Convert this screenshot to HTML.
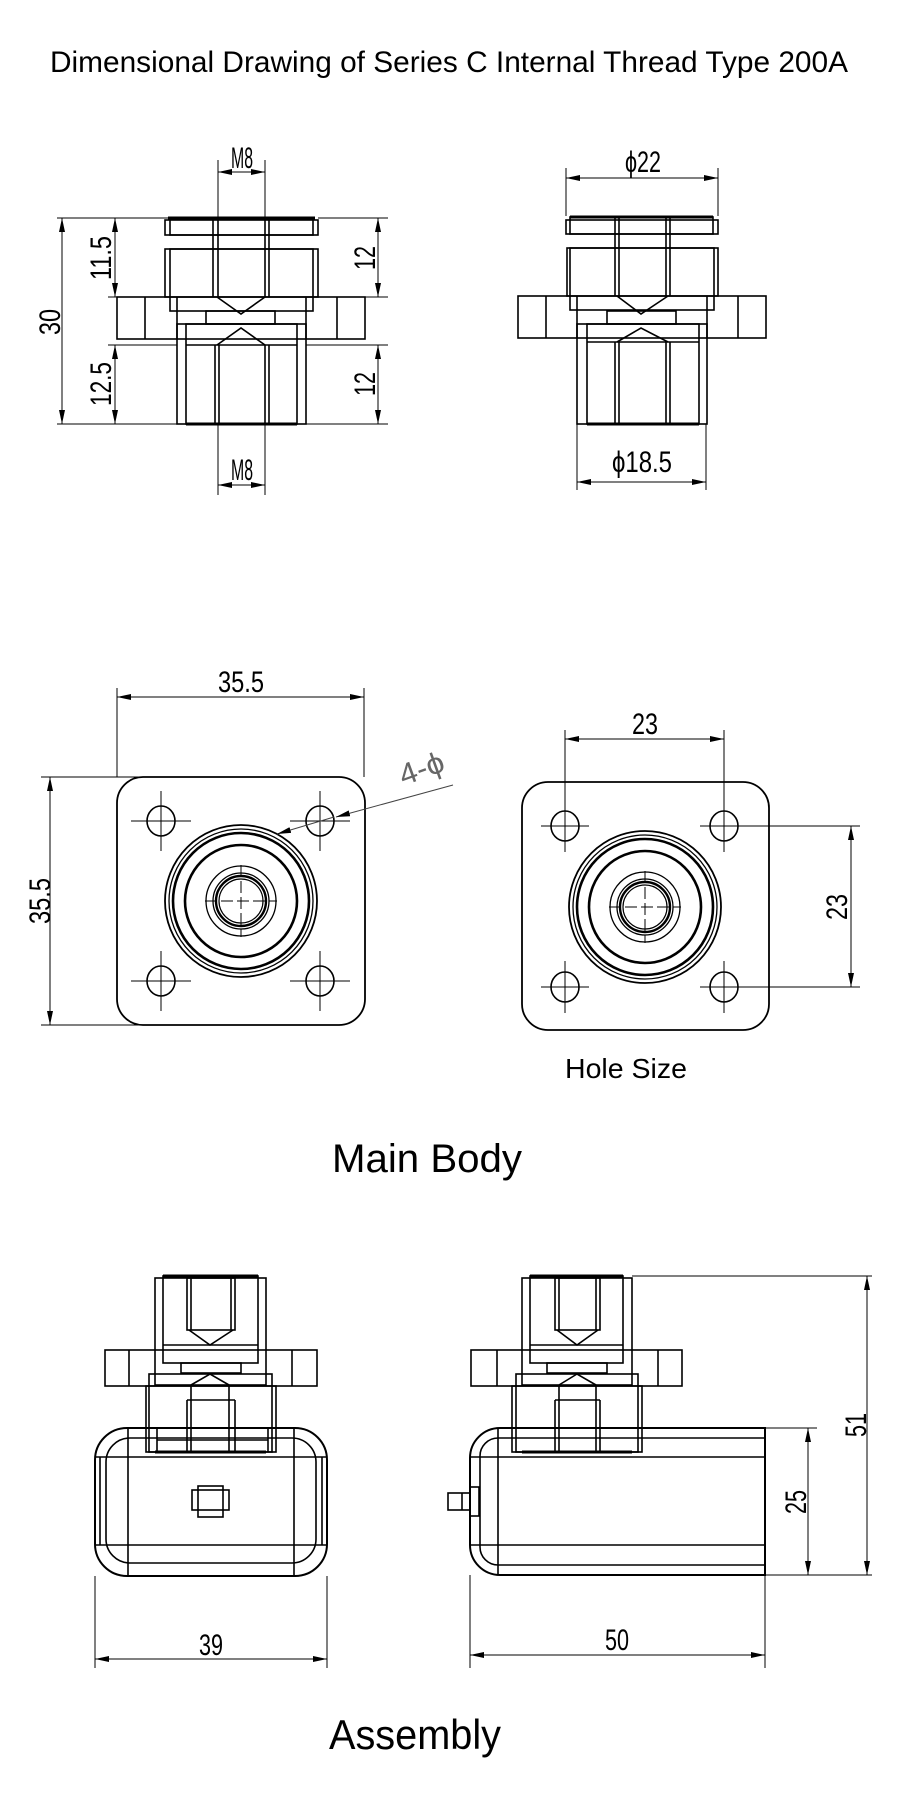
<!DOCTYPE html>
<html><head><meta charset="utf-8"><style>
html,body{margin:0;padding:0;background:#fff;}
svg{display:block;}
text{font-family:"Liberation Sans","Noto Sans CJK SC",sans-serif;fill:#000;}
.d{font-family:"Liberation Sans Narrow","Liberation Sans",sans-serif;font-size:30px;}
</style></head><body>
<svg width="900" height="1797" viewBox="0 0 900 1797" xmlns="http://www.w3.org/2000/svg">
<defs>
<marker id="a" viewBox="0 0 14 6" refX="14" refY="3" markerWidth="14" markerHeight="6" markerUnits="userSpaceOnUse" orient="auto-start-reverse"><path d="M0,0 L14,3 L0,6 z" fill="#000"/></marker>
</defs>
<rect width="900" height="1797" fill="#fff"/>
<text x="449" y="72" font-size="30" text-anchor="middle" textLength="798" lengthAdjust="spacingAndGlyphs">Dimensional Drawing of Series C Internal Thread Type 200A</text>

<!-- ========== TOP LEFT VIEW ========== -->
<g fill="none" stroke="#000" stroke-width="1.6">
 <rect x="165" y="220" width="153" height="15"/>
 <line x1="168" y1="218" x2="315" y2="218" stroke-width="3"/>
 <rect x="170" y="218" width="143" height="17"/>
 <rect x="165" y="249" width="153" height="48"/>
 <rect x="170" y="249" width="143" height="62"/>
 <line x1="213" y1="218" x2="213" y2="297"/><line x1="218" y1="218" x2="218" y2="297"/>
 <line x1="265" y1="218" x2="265" y2="297"/><line x1="269" y1="218" x2="269" y2="297"/>
 <polyline points="217,297 241,314 265,297"/>
 <rect x="117" y="297" width="248" height="42"/>
 <line x1="145" y1="297" x2="145" y2="339"/><line x1="337" y1="297" x2="337" y2="339"/>
 <line x1="177" y1="297" x2="177" y2="339"/><line x1="306" y1="297" x2="306" y2="339"/>
 <rect x="206" y="311" width="69" height="13"/>
 <rect x="177" y="324" width="129" height="100"/>
 <rect x="186" y="324" width="111" height="100"/>
 <line x1="186" y1="345" x2="297" y2="345"/>
 <polyline points="217,345 241,328 265,345"/>
 <line x1="215" y1="345" x2="215" y2="424"/><line x1="219" y1="345" x2="219" y2="424"/>
 <line x1="265" y1="345" x2="265" y2="424"/><line x1="269" y1="345" x2="269" y2="424"/>
 <line x1="186" y1="424" x2="297" y2="424" stroke-width="3"/>
</g>
<g fill="none" stroke="#000" stroke-width="1">
 <line x1="218" y1="160" x2="218" y2="218"/><line x1="265" y1="160" x2="265" y2="218"/>
 <line x1="218" y1="424" x2="218" y2="495"/><line x1="265" y1="424" x2="265" y2="495"/>
 <line x1="57" y1="218" x2="170" y2="218"/><line x1="57" y1="424" x2="186" y2="424"/>
 <line x1="108" y1="297" x2="117" y2="297"/><line x1="108" y1="345" x2="177" y2="345"/>
 <line x1="318" y1="218" x2="388" y2="218"/><line x1="365" y1="297" x2="388" y2="297"/>
 <line x1="306" y1="345" x2="388" y2="345"/><line x1="297" y1="424" x2="388" y2="424"/>
 <line x1="62" y1="218" x2="62" y2="424" marker-start="url(#a)" marker-end="url(#a)"/>
 <line x1="115" y1="218" x2="115" y2="297" marker-start="url(#a)" marker-end="url(#a)"/>
 <line x1="115" y1="345" x2="115" y2="424" marker-start="url(#a)" marker-end="url(#a)"/>
 <line x1="378" y1="218" x2="378" y2="297" marker-start="url(#a)" marker-end="url(#a)"/>
 <line x1="378" y1="345" x2="378" y2="424" marker-start="url(#a)" marker-end="url(#a)"/>
 <line x1="218" y1="172" x2="265" y2="172" marker-start="url(#a)" marker-end="url(#a)"/>
 <line x1="218" y1="485" x2="265" y2="485" marker-start="url(#a)" marker-end="url(#a)"/>
</g>
<text class="d" x="242" y="168" text-anchor="middle" textLength="22" lengthAdjust="spacingAndGlyphs">M8</text>
<text class="d" x="242" y="480" text-anchor="middle" textLength="22" lengthAdjust="spacingAndGlyphs">M8</text>
<text class="d" transform="translate(60,322) rotate(-90)" text-anchor="middle" textLength="26" lengthAdjust="spacingAndGlyphs">30</text>
<text class="d" transform="translate(111,258) rotate(-90)" text-anchor="middle" textLength="44" lengthAdjust="spacingAndGlyphs">11.5</text>
<text class="d" transform="translate(111,384) rotate(-90)" text-anchor="middle" textLength="44" lengthAdjust="spacingAndGlyphs">12.5</text>
<text class="d" transform="translate(375,258) rotate(-90)" text-anchor="middle" textLength="24" lengthAdjust="spacingAndGlyphs">12</text>
<text class="d" transform="translate(375,384) rotate(-90)" text-anchor="middle" textLength="24" lengthAdjust="spacingAndGlyphs">12</text>

<!-- ========== TOP RIGHT VIEW ========== -->
<g fill="none" stroke="#000" stroke-width="1.6">
 <rect x="566" y="220" width="152" height="14"/>
 <line x1="570" y1="217" x2="713" y2="217" stroke-width="3"/>
 <rect x="570" y="217" width="143" height="17"/>
 <rect x="567" y="248" width="151" height="48"/>
 <rect x="570" y="248" width="144" height="62"/>
 <line x1="615" y1="217" x2="615" y2="296"/><line x1="619" y1="217" x2="619" y2="296"/>
 <line x1="666" y1="217" x2="666" y2="296"/><line x1="670" y1="217" x2="670" y2="296"/>
 <polyline points="617,296 641,314 668,296"/>
 <rect x="518" y="296" width="248" height="42"/>
 <line x1="546" y1="296" x2="546" y2="338"/><line x1="738" y1="296" x2="738" y2="338"/>
 <line x1="577" y1="296" x2="577" y2="338"/><line x1="707" y1="296" x2="707" y2="338"/>
 <rect x="607" y="311" width="69" height="13"/>
 <rect x="577" y="324" width="130" height="100"/>
 <rect x="587" y="324" width="112" height="100"/>
 <line x1="587" y1="342" x2="699" y2="342"/>
 <polyline points="617,342 641,328 668,342"/>
 <line x1="615" y1="342" x2="615" y2="424"/><line x1="619" y1="342" x2="619" y2="424"/>
 <line x1="666" y1="342" x2="666" y2="424"/><line x1="670" y1="342" x2="670" y2="424"/>
 <line x1="587" y1="424" x2="699" y2="424" stroke-width="3"/>
</g>
<g fill="none" stroke="#000" stroke-width="1">
 <line x1="566" y1="168" x2="566" y2="216"/><line x1="718" y1="168" x2="718" y2="216"/>
 <line x1="577" y1="424" x2="577" y2="490"/><line x1="706" y1="424" x2="706" y2="490"/>
 <line x1="566" y1="178" x2="718" y2="178" marker-start="url(#a)" marker-end="url(#a)"/>
 <line x1="577" y1="482" x2="706" y2="482" marker-start="url(#a)" marker-end="url(#a)"/>
</g>
<text class="d" x="643" y="172" text-anchor="middle" textLength="36" lengthAdjust="spacingAndGlyphs">ϕ22</text>
<text class="d" x="642" y="472" text-anchor="middle" textLength="60" lengthAdjust="spacingAndGlyphs">ϕ18.5</text>

<!-- ========== MAIN BODY LEFT ========== -->
<g fill="none" stroke="#000" stroke-width="1.8">
 <rect x="117" y="777" width="248" height="248" rx="26"/>
 <g stroke-width="1.6">
  <ellipse cx="161" cy="821" rx="14" ry="15"/><ellipse cx="320" cy="821" rx="14" ry="15"/>
  <ellipse cx="161" cy="981" rx="14" ry="15"/><ellipse cx="320" cy="981" rx="14" ry="15"/>
 </g>
 <circle cx="241" cy="901" r="76"/><circle cx="241" cy="901" r="72" stroke-width="1.3"/>
 <circle cx="241" cy="901" r="68" stroke-width="2.6"/><circle cx="241" cy="901" r="56" stroke-width="2.6"/>
 <circle cx="241" cy="901" r="35" stroke-width="1.3"/><circle cx="241" cy="901" r="28" stroke-width="1.3"/>
 <circle cx="241" cy="901" r="25" stroke-width="2.4"/><circle cx="241" cy="901" r="22" stroke-width="1.2"/>
</g>
<g fill="none" stroke="#000" stroke-width="1">
 <path d="M131,821h60M161,791v60M290,821h60M320,791v60M131,981h60M161,951v60M290,981h60M320,951v60"/>
 <path d="M205,901h72M241,865v72" stroke-dasharray="12,4"/>
 <line x1="117" y1="688" x2="117" y2="777"/><line x1="364" y1="688" x2="364" y2="777"/>
 <line x1="117" y1="697" x2="364" y2="697" marker-start="url(#a)" marker-end="url(#a)"/>
 <line x1="41" y1="777" x2="140" y2="777"/><line x1="41" y1="1025" x2="140" y2="1025"/>
 <line x1="50" y1="777" x2="50" y2="1025" marker-start="url(#a)" marker-end="url(#a)"/>
 <line x1="277" y1="834" x2="334" y2="817" marker-start="url(#a)" stroke="#444"/>
 <line x1="453" y1="785" x2="336" y2="817" marker-end="url(#a)" stroke="#444"/>
</g>
<text class="d" x="241" y="692" text-anchor="middle" textLength="46" lengthAdjust="spacingAndGlyphs">35.5</text>
<text class="d" transform="translate(50,901) rotate(-90)" text-anchor="middle" textLength="46" lengthAdjust="spacingAndGlyphs">35.5</text>
<text class="d" transform="translate(425,778) rotate(-20)" text-anchor="middle" textLength="46" lengthAdjust="spacingAndGlyphs" style="fill:#666">4-ϕ</text>

<!-- ========== MAIN BODY RIGHT ========== -->
<g fill="none" stroke="#000" stroke-width="1.8">
 <rect x="522" y="782" width="247" height="248" rx="26"/>
 <g stroke-width="1.6">
  <ellipse cx="565" cy="826" rx="14" ry="15"/><ellipse cx="724" cy="826" rx="14" ry="15"/>
  <ellipse cx="565" cy="987" rx="14" ry="15"/><ellipse cx="724" cy="987" rx="14" ry="15"/>
 </g>
 <circle cx="645" cy="907" r="76"/><circle cx="645" cy="907" r="72" stroke-width="1.3"/>
 <circle cx="645" cy="907" r="68" stroke-width="2.6"/><circle cx="645" cy="907" r="56" stroke-width="2.6"/>
 <circle cx="645" cy="907" r="35" stroke-width="1.3"/><circle cx="645" cy="907" r="28" stroke-width="1.3"/>
 <circle cx="645" cy="907" r="25" stroke-width="2.4"/><circle cx="645" cy="907" r="22" stroke-width="1.2"/>
</g>
<g fill="none" stroke="#000" stroke-width="1">
 <path d="M541,826h48M565,800v52M700,826h48M724,800v52M541,987h48M565,961v52M700,987h48M724,961v52"/>
 <path d="M609,907h72M645,871v72" stroke-dasharray="12,4"/>
 <line x1="565" y1="730" x2="565" y2="812"/><line x1="724" y1="730" x2="724" y2="812"/>
 <line x1="565" y1="739" x2="724" y2="739" marker-start="url(#a)" marker-end="url(#a)"/>
 <line x1="738" y1="826" x2="860" y2="826"/><line x1="738" y1="987" x2="860" y2="987"/>
 <line x1="851" y1="826" x2="851" y2="987" marker-start="url(#a)" marker-end="url(#a)"/>
</g>
<text class="d" x="645" y="734" text-anchor="middle" textLength="26" lengthAdjust="spacingAndGlyphs">23</text>
<text class="d" transform="translate(847,907) rotate(-90)" text-anchor="middle" textLength="26" lengthAdjust="spacingAndGlyphs">23</text>
<text x="626" y="1078" font-size="28" text-anchor="middle" textLength="122" lengthAdjust="spacingAndGlyphs">Hole Size</text>
<text x="427" y="1172" font-size="40" text-anchor="middle" textLength="190" lengthAdjust="spacingAndGlyphs">Main Body</text>

<!-- ========== ASSEMBLY LEFT ========== -->
<g fill="none" stroke="#000" stroke-width="1.6">
 <rect x="155" y="1278" width="111" height="107"/>
 <rect x="163" y="1276" width="95" height="87"/>
 <line x1="163" y1="1276" x2="258" y2="1276" stroke-width="3"/>
 <rect x="187" y="1278" width="48" height="52"/>
 <line x1="191" y1="1278" x2="191" y2="1330"/><line x1="231" y1="1278" x2="231" y2="1330"/>
 <polyline points="189,1330 210,1345 233,1330"/>
 <line x1="163" y1="1345" x2="258" y2="1345"/>
 <rect x="105" y="1350" width="212" height="36"/>
 <line x1="129" y1="1350" x2="129" y2="1386"/><line x1="292" y1="1350" x2="292" y2="1386"/>
 <rect x="181" y="1363" width="60" height="10"/>
 <rect x="149" y="1374" width="123" height="78"/>
 <rect x="146" y="1386" width="130" height="66"/>
 <polyline points="191,1385 210,1374 229,1385"/>
 <line x1="187" y1="1400" x2="235" y2="1400"/>
 <line x1="187" y1="1400" x2="187" y2="1452"/><line x1="235" y1="1400" x2="235" y2="1452"/>
 <line x1="191" y1="1385" x2="191" y2="1452"/><line x1="229" y1="1385" x2="229" y2="1452"/>
 <line x1="157" y1="1428" x2="268" y2="1428"/><line x1="157" y1="1440" x2="268" y2="1440"/>
 <line x1="157" y1="1428" x2="157" y2="1452"/><line x1="268" y1="1428" x2="268" y2="1452"/>
 <line x1="155" y1="1452" x2="266" y2="1452" stroke-width="3"/>
 <rect x="95" y="1428" width="232" height="148" rx="32" stroke-width="2"/>
 <rect x="106" y="1438" width="210" height="125" rx="24"/>
 <line x1="95" y1="1457" x2="327" y2="1457"/><line x1="95" y1="1545" x2="327" y2="1545"/>
 <line x1="128" y1="1428" x2="128" y2="1576"/><line x1="294" y1="1428" x2="294" y2="1576"/>
 <line x1="100" y1="1457" x2="100" y2="1545"/><line x1="322" y1="1457" x2="322" y2="1545"/>
 <rect x="192" y="1490" width="37" height="20"/>
 <rect x="198" y="1486" width="25" height="31"/>
</g>
<g fill="none" stroke="#000" stroke-width="1">
 <line x1="95" y1="1576" x2="95" y2="1668"/><line x1="327" y1="1576" x2="327" y2="1668"/>
 <line x1="95" y1="1659" x2="327" y2="1659" marker-start="url(#a)" marker-end="url(#a)"/>
</g>
<text class="d" x="211" y="1655" text-anchor="middle" textLength="24" lengthAdjust="spacingAndGlyphs">39</text>

<!-- ========== ASSEMBLY RIGHT ========== -->
<g fill="none" stroke="#000" stroke-width="1.6">
 <rect x="522" y="1278" width="110" height="107"/>
 <rect x="530" y="1276" width="93" height="87"/>
 <line x1="530" y1="1276" x2="623" y2="1276" stroke-width="3"/>
 <rect x="555" y="1278" width="45" height="52"/>
 <line x1="559" y1="1278" x2="559" y2="1330"/><line x1="596" y1="1278" x2="596" y2="1330"/>
 <polyline points="557,1330 577,1345 598,1330"/>
 <line x1="530" y1="1345" x2="623" y2="1345"/>
 <rect x="471" y="1350" width="211" height="36"/>
 <line x1="497" y1="1350" x2="497" y2="1386"/><line x1="658" y1="1350" x2="658" y2="1386"/>
 <rect x="547" y="1363" width="60" height="10"/>
 <rect x="516" y="1374" width="122" height="78"/>
 <rect x="512" y="1386" width="130" height="66"/>
 <polyline points="559,1385 577,1374 596,1385"/>
 <line x1="555" y1="1400" x2="600" y2="1400"/>
 <line x1="555" y1="1400" x2="555" y2="1452"/><line x1="600" y1="1400" x2="600" y2="1452"/>
 <line x1="559" y1="1385" x2="559" y2="1452"/><line x1="596" y1="1385" x2="596" y2="1452"/>
 <line x1="522" y1="1452" x2="632" y2="1452" stroke-width="3"/>
 <path d="M500,1428 H765 V1575 H500 A30,30 0 0 1 470,1545 V1458 A30,30 0 0 1 500,1428 Z" stroke-width="2"/>
 <path d="M498,1438 A18,18 0 0 0 480,1456 V1547 A18,18 0 0 0 498,1565"/>
 <line x1="498" y1="1428" x2="498" y2="1575"/>
 <line x1="498" y1="1438" x2="765" y2="1438"/><line x1="470" y1="1457" x2="765" y2="1457"/>
 <line x1="470" y1="1545" x2="765" y2="1545"/><line x1="498" y1="1565" x2="765" y2="1565"/>
 <rect x="470" y="1487" width="9" height="29"/>
 <rect x="448" y="1493" width="22" height="17"/>
 <line x1="462" y1="1493" x2="462" y2="1510"/>
</g>
<g fill="none" stroke="#000" stroke-width="1">
 <line x1="632" y1="1276" x2="872" y2="1276"/>
 <line x1="765" y1="1428" x2="817" y2="1428"/><line x1="765" y1="1575" x2="872" y2="1575"/>
 <line x1="867" y1="1276" x2="867" y2="1575" marker-start="url(#a)" marker-end="url(#a)"/>
 <line x1="808" y1="1428" x2="808" y2="1575" marker-start="url(#a)" marker-end="url(#a)"/>
 <line x1="470" y1="1575" x2="470" y2="1668"/><line x1="765" y1="1575" x2="765" y2="1668"/>
 <line x1="470" y1="1655" x2="765" y2="1655" marker-start="url(#a)" marker-end="url(#a)"/>
</g>
<text class="d" transform="translate(866,1425) rotate(-90)" text-anchor="middle" textLength="24" lengthAdjust="spacingAndGlyphs">51</text>
<text class="d" transform="translate(806,1502) rotate(-90)" text-anchor="middle" textLength="24" lengthAdjust="spacingAndGlyphs">25</text>
<text class="d" x="617" y="1650" text-anchor="middle" textLength="24" lengthAdjust="spacingAndGlyphs">50</text>
<text x="415" y="1749" font-size="42" text-anchor="middle" textLength="172" lengthAdjust="spacingAndGlyphs">Assembly</text>
</svg>
</body></html>
